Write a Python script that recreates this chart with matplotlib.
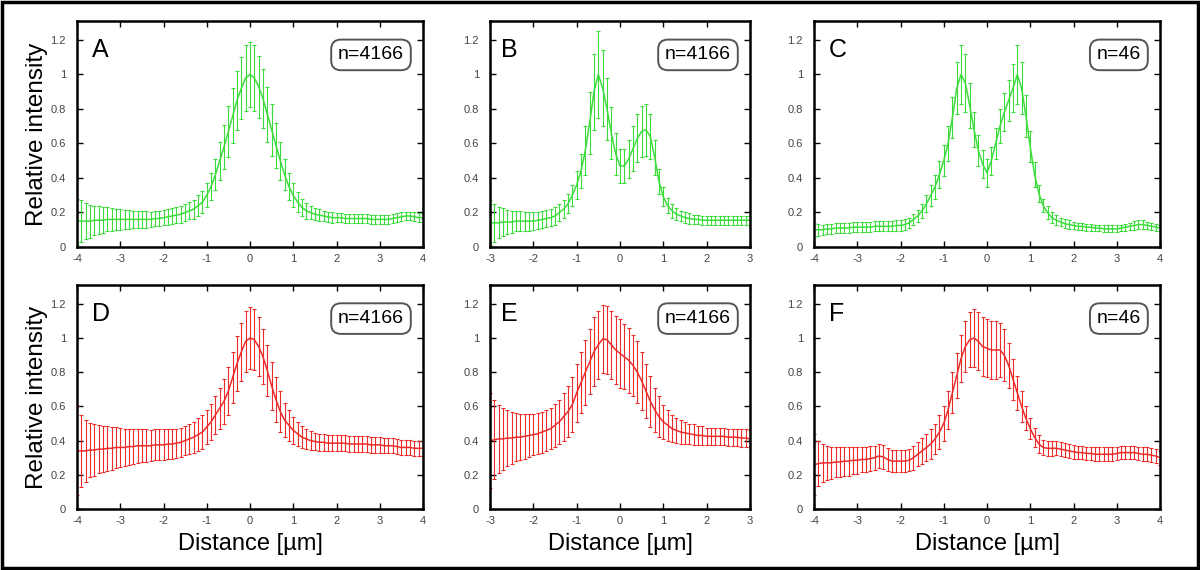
import matplotlib
matplotlib.use('Agg')
import numpy as np
import matplotlib.pyplot as plt
from matplotlib.patches import Rectangle

plt.rcParams['font.family'] = ['Liberation Sans', 'DejaVu Sans']
plt.rcParams['axes.unicode_minus'] = False

# sample positions (um)
x_wide = np.round(np.arange(-40, 41) / 10, 1)   # -4 .. 4
x_narrow = np.round(np.arange(-30, 31) / 10, 1)  # -3 .. 3

# A: green, n=4166
a_mean = [0.15, 0.15, 0.15, 0.15, 0.155, 0.155, 0.155, 0.16, 0.16, 0.16,
          0.16, 0.16, 0.16, 0.16, 0.16, 0.16, 0.16, 0.16, 0.165, 0.165,
          0.17, 0.175, 0.18, 0.185, 0.19, 0.20, 0.21, 0.22, 0.24, 0.26,
          0.30, 0.35, 0.42, 0.50, 0.58, 0.67, 0.76, 0.85, 0.92, 0.98,
          1.0, 0.98, 0.93, 0.86, 0.77, 0.68, 0.59, 0.50, 0.42, 0.35,
          0.30, 0.26, 0.23, 0.21, 0.20, 0.19, 0.185, 0.18, 0.175, 0.17,
          0.17, 0.17, 0.165, 0.165, 0.165, 0.165, 0.165, 0.165, 0.16, 0.16,
          0.16, 0.16, 0.16, 0.165, 0.17, 0.175, 0.18, 0.18, 0.175, 0.17,
          0.17]
a_err = [0.13, 0.12, 0.105, 0.095, 0.085, 0.08, 0.075, 0.07, 0.065, 0.06,
         0.06, 0.055, 0.055, 0.05, 0.05, 0.05, 0.05, 0.045, 0.045, 0.045,
         0.045, 0.045, 0.045, 0.045, 0.05, 0.05, 0.05, 0.055, 0.06, 0.065,
         0.07, 0.08, 0.09, 0.11, 0.13, 0.15, 0.16, 0.17, 0.18, 0.19,
         0.19, 0.19, 0.18, 0.17, 0.16, 0.15, 0.13, 0.11, 0.09, 0.08,
         0.07, 0.06, 0.05, 0.045, 0.04, 0.035, 0.035, 0.03, 0.03, 0.03,
         0.025, 0.025, 0.025, 0.025, 0.025, 0.025, 0.025, 0.025, 0.025, 0.025,
         0.025, 0.025, 0.025, 0.025, 0.025, 0.025, 0.025, 0.025, 0.025, 0.025,
         0.025]

# B: green, n=4166
b_mean = [0.14, 0.14, 0.14, 0.145, 0.145, 0.145, 0.15, 0.15, 0.15, 0.15,
          0.15, 0.155, 0.16, 0.165, 0.17, 0.18, 0.20, 0.22, 0.25, 0.30,
          0.36, 0.44, 0.56, 0.72, 0.90, 1.0, 0.92, 0.80, 0.66, 0.54,
          0.47, 0.47, 0.51, 0.57, 0.63, 0.67, 0.68, 0.64, 0.52, 0.38,
          0.29, 0.24, 0.21, 0.19, 0.18, 0.17, 0.165, 0.16, 0.16, 0.155,
          0.155, 0.155, 0.155, 0.155, 0.155, 0.155, 0.155, 0.155, 0.155, 0.155,
          0.155]
b_err = [0.13, 0.11, 0.09, 0.08, 0.07, 0.065, 0.06, 0.06, 0.055, 0.055,
         0.05, 0.05, 0.05, 0.05, 0.05, 0.05, 0.05, 0.05, 0.055, 0.06,
         0.08, 0.10, 0.14, 0.18, 0.22, 0.25, 0.22, 0.18, 0.15, 0.12,
         0.10, 0.10, 0.11, 0.13, 0.14, 0.15, 0.15, 0.13, 0.10, 0.07,
         0.055, 0.045, 0.04, 0.035, 0.03, 0.03, 0.03, 0.025, 0.025, 0.025,
         0.025, 0.025, 0.025, 0.025, 0.025, 0.025, 0.025, 0.025, 0.025, 0.025,
         0.025]

# C: green, n=46
c_mean = [0.10, 0.10, 0.10, 0.105, 0.105, 0.11, 0.11, 0.11, 0.11, 0.115,
          0.115, 0.115, 0.115, 0.115, 0.12, 0.12, 0.12, 0.12, 0.12, 0.125,
          0.125, 0.13, 0.14, 0.16, 0.18, 0.21, 0.25, 0.30, 0.35, 0.42,
          0.50, 0.60, 0.75, 0.92, 1.0, 0.95, 0.82, 0.68, 0.56, 0.48,
          0.43, 0.50, 0.60, 0.70, 0.78, 0.85, 0.92, 1.0, 0.92, 0.76,
          0.58, 0.42, 0.31, 0.24, 0.20, 0.17, 0.155, 0.145, 0.135, 0.13,
          0.125, 0.12, 0.12, 0.115, 0.115, 0.11, 0.11, 0.105, 0.105, 0.105,
          0.105, 0.11, 0.115, 0.12, 0.125, 0.13, 0.13, 0.125, 0.12, 0.115,
          0.11]
c_err = [0.04, 0.035, 0.03, 0.03, 0.03, 0.03, 0.03, 0.03, 0.03, 0.03,
         0.03, 0.03, 0.03, 0.03, 0.03, 0.03, 0.03, 0.03, 0.03, 0.03,
         0.03, 0.03, 0.03, 0.03, 0.035, 0.04, 0.05, 0.06, 0.07, 0.08,
         0.09, 0.10, 0.12, 0.15, 0.17, 0.17, 0.13, 0.10, 0.09, 0.08,
         0.08, 0.08, 0.09, 0.10, 0.11, 0.12, 0.14, 0.17, 0.15, 0.12,
         0.09, 0.07, 0.05, 0.04, 0.035, 0.03, 0.03, 0.025, 0.025, 0.025,
         0.02, 0.02, 0.02, 0.02, 0.02, 0.02, 0.02, 0.02, 0.02, 0.02,
         0.02, 0.02, 0.02, 0.02, 0.025, 0.025, 0.025, 0.02, 0.02, 0.02,
         0.02]

# D: red, n=4166
d_mean = [0.34, 0.34, 0.34, 0.345, 0.345, 0.35, 0.35, 0.355, 0.355, 0.36,
          0.36, 0.36, 0.365, 0.365, 0.37, 0.37, 0.37, 0.37, 0.375, 0.375,
          0.375, 0.38, 0.38, 0.385, 0.39, 0.40, 0.41, 0.42, 0.435, 0.45,
          0.48, 0.51, 0.55, 0.59, 0.63, 0.69, 0.77, 0.85, 0.92, 0.98,
          1.0, 0.99, 0.95, 0.89, 0.81, 0.72, 0.64, 0.57, 0.52, 0.49,
          0.46, 0.44, 0.42, 0.41, 0.40, 0.395, 0.39, 0.39, 0.385, 0.385,
          0.385, 0.385, 0.385, 0.38, 0.38, 0.38, 0.38, 0.38, 0.375, 0.375,
          0.375, 0.37, 0.37, 0.37, 0.365, 0.36, 0.36, 0.36, 0.355, 0.355,
          0.355]
d_err = [0.26, 0.21, 0.18, 0.16, 0.15, 0.14, 0.135, 0.13, 0.125, 0.12,
         0.115, 0.11, 0.105, 0.10, 0.10, 0.095, 0.095, 0.09, 0.09, 0.09,
         0.09, 0.085, 0.085, 0.085, 0.085, 0.085, 0.09, 0.09, 0.095, 0.10,
         0.10, 0.105, 0.11, 0.12, 0.13, 0.14, 0.15, 0.16, 0.17, 0.18,
         0.18, 0.18, 0.17, 0.16, 0.15, 0.14, 0.13, 0.12, 0.10, 0.09,
         0.08, 0.07, 0.065, 0.06, 0.055, 0.05, 0.05, 0.05, 0.045, 0.045,
         0.045, 0.045, 0.045, 0.045, 0.045, 0.045, 0.045, 0.045, 0.045, 0.045,
         0.045, 0.045, 0.045, 0.045, 0.045, 0.045, 0.045, 0.045, 0.045, 0.045,
         0.045]

# E: red, n=4166
e_mean = [0.40, 0.405, 0.41, 0.41, 0.415, 0.415, 0.42, 0.42, 0.425, 0.43,
          0.435, 0.44, 0.45, 0.46, 0.47, 0.49, 0.51, 0.54, 0.57, 0.61,
          0.68, 0.74, 0.80, 0.86, 0.92, 0.96, 0.995, 0.99, 0.96, 0.93,
          0.91, 0.89, 0.87, 0.84, 0.80, 0.75, 0.69, 0.63, 0.58, 0.54,
          0.51, 0.49, 0.47, 0.46, 0.45, 0.445, 0.44, 0.435, 0.43, 0.43,
          0.425, 0.425, 0.425, 0.425, 0.425, 0.42, 0.42, 0.42, 0.415, 0.415,
          0.41]
e_err = [0.28, 0.23, 0.20, 0.18, 0.165, 0.15, 0.14, 0.135, 0.13, 0.125,
         0.12, 0.12, 0.12, 0.12, 0.12, 0.125, 0.13, 0.14, 0.15, 0.16,
         0.17, 0.18, 0.19, 0.19, 0.20, 0.20, 0.20, 0.20, 0.20, 0.20,
         0.20, 0.19, 0.19, 0.18, 0.18, 0.17, 0.16, 0.15, 0.13, 0.12,
         0.10, 0.09, 0.08, 0.075, 0.07, 0.065, 0.06, 0.06, 0.055, 0.055,
         0.05, 0.05, 0.05, 0.05, 0.05, 0.05, 0.05, 0.05, 0.05, 0.05,
         0.05]

# F: red, n=46
f_mean = [0.26, 0.265, 0.27, 0.27, 0.27, 0.275, 0.275, 0.28, 0.28, 0.285,
          0.285, 0.29, 0.29, 0.295, 0.30, 0.31, 0.305, 0.29, 0.28, 0.28,
          0.28, 0.28, 0.285, 0.30, 0.32, 0.34, 0.36, 0.38, 0.41, 0.45,
          0.50, 0.58, 0.68, 0.78, 0.88, 0.95, 0.99, 1.0, 0.98, 0.95,
          0.94, 0.93, 0.93, 0.93, 0.90, 0.84, 0.76, 0.68, 0.60, 0.53,
          0.47, 0.42, 0.38, 0.36, 0.355, 0.355, 0.355, 0.35, 0.345, 0.34,
          0.335, 0.33, 0.33, 0.325, 0.325, 0.32, 0.32, 0.32, 0.32, 0.32,
          0.325, 0.33, 0.33, 0.33, 0.33, 0.325, 0.32, 0.32, 0.315, 0.31,
          0.30]
f_err = [0.18, 0.13, 0.11, 0.10, 0.095, 0.09, 0.09, 0.085, 0.085, 0.08,
         0.08, 0.075, 0.075, 0.075, 0.07, 0.07, 0.07, 0.065, 0.065, 0.065,
         0.065, 0.065, 0.065, 0.07, 0.07, 0.075, 0.08, 0.085, 0.09, 0.10,
         0.10, 0.11, 0.12, 0.13, 0.14, 0.15, 0.16, 0.17, 0.17, 0.17,
         0.17, 0.17, 0.17, 0.16, 0.15, 0.13, 0.12, 0.10, 0.09, 0.07,
         0.06, 0.055, 0.05, 0.045, 0.045, 0.045, 0.04, 0.04, 0.04, 0.04,
         0.04, 0.04, 0.04, 0.04, 0.04, 0.04, 0.04, 0.04, 0.04, 0.04,
         0.04, 0.04, 0.04, 0.04, 0.04, 0.04, 0.04, 0.04, 0.04, 0.04,
         0.04]

letters = ['A', 'B', 'C', 'D', 'E', 'F']
n_labels = ['n=4166', 'n=4166', 'n=46', 'n=4166', 'n=4166', 'n=46']
y_ticks = [0, 0.2, 0.4, 0.6, 0.8, 1.0, 1.2]
y_ticklabels = ['0', '0.2', '0.4', '0.6', '0.8', '1', '1.2']

green = '#3ddc3d'
red = '#ee2b2b'

panels = [
    (x_wide, a_mean, a_err, green, (-4, 4)),
    (x_narrow, b_mean, b_err, green, (-3, 3)),
    (x_wide, c_mean, c_err, green, (-4, 4)),
    (x_wide, d_mean, d_err, red, (-4, 4)),
    (x_narrow, e_mean, e_err, red, (-3, 3)),
    (x_wide, f_mean, f_err, red, (-4, 4)),
]

W, H = 1200, 570
fig = plt.figure(figsize=(12, 5.7), dpi=100)

# axes boxes in pixels: left, right for each column; top, bottom for each row
cols = [(77, 423), (490, 750), (814, 1160)]
rows = [(21, 247), (285, 509)]

for i, (x, m, e, col, xl) in enumerate(panels):
    l, r = cols[i % 3]
    t, b = rows[i // 3]
    ax = fig.add_axes([l / W, 1 - b / H, (r - l) / W, (b - t) / H])
    ax.errorbar(x, m, yerr=e, color=col, ecolor=col, lw=1.1, elinewidth=0.8,
                capsize=1.3, capthick=0.8)
    ax.set_xlim(xl)
    ax.set_ylim(0, 1.31)
    ax.set_xticks(range(xl[0], xl[1] + 1))
    ax.set_yticks(y_ticks)
    ax.set_yticklabels(y_ticklabels)
    ax.tick_params(direction='in', top=True, right=True, length=4, width=1,
                   labelsize=8, labelcolor='#444444')
    ax.tick_params(axis='y', pad=8)
    ax.tick_params(axis='x', pad=5)
    for s in ax.spines.values():
        s.set_linewidth(1.8)
    ax.text(0.043, 0.87, letters[i], transform=ax.transAxes, fontsize=18,
            ha='left', va='center')
    ax.annotate(n_labels[i], xy=(1, 0.85), xycoords='axes fraction',
                xytext=(-19, 0), textcoords='offset pixels', ha='right',
                va='center', fontsize=14,
                bbox=dict(boxstyle='round,pad=0.35,rounding_size=0.5',
                          fc='white', ec='#555555', lw=1.4))
    if i % 3 == 0:
        ax.set_ylabel('Relative intensity', fontsize=17.5, labelpad=2)
    if i // 3 == 1:
        ax.set_xlabel('Distance [µm]', fontsize=17, labelpad=5)

fig.patches.append(Rectangle((0.002, 0.003), 0.996, 0.994, transform=fig.transFigure,
                             fill=False, ec='black', lw=2.5))

plt.savefig('out.png', dpi=100)
